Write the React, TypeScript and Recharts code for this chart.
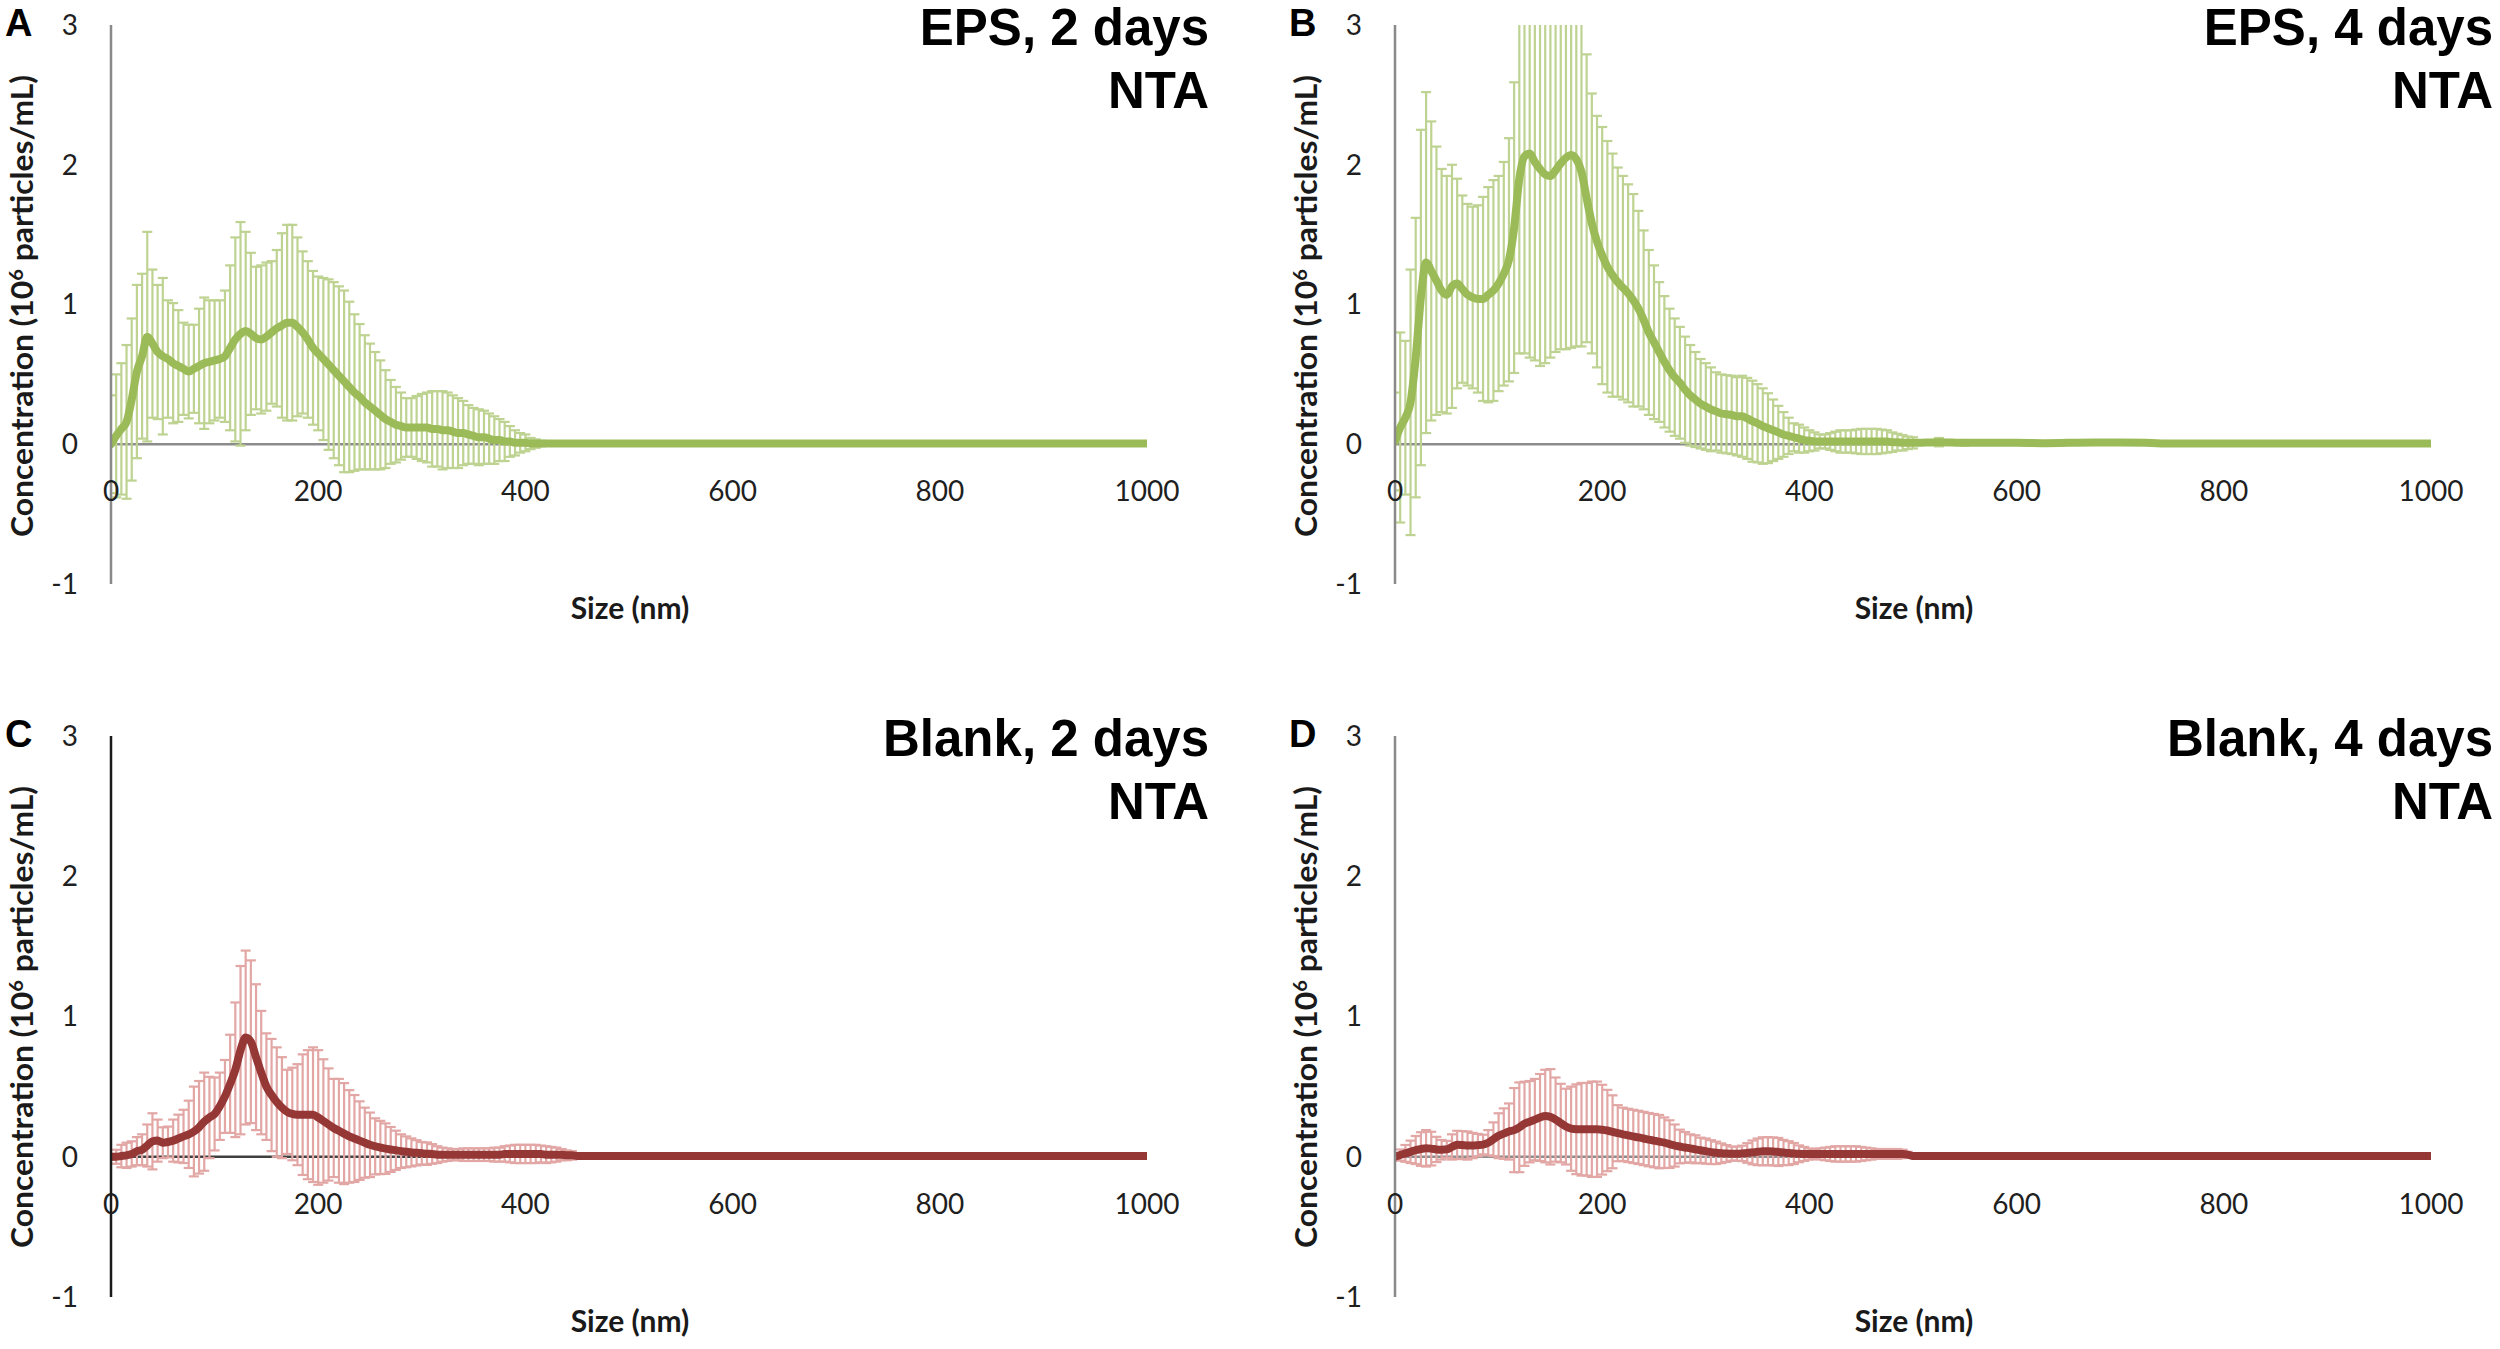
import React from 'react';
import { LineChart, Line, XAxis, YAxis, ReferenceLine, ErrorBar } from 'recharts';

// Particle size bins (nm)
const SIZES = [
  0, 5, 10, 15, 20, 25, 30, 35, 40, 45,
  50, 55, 60, 65, 70, 75, 80, 85, 90, 95,
  100, 105, 110, 115, 120, 125, 130, 135, 140, 145,
  150, 155, 160, 165, 170, 175, 180, 185, 190, 195,
  200, 205, 210, 215, 220, 225, 230, 235, 240, 245,
  250, 255, 260, 265, 270, 275, 280, 285, 290, 295,
  300, 305, 310, 315, 320, 325, 330, 335, 340, 345,
  350, 355, 360, 365, 370, 375, 380, 385, 390, 395,
  400, 405, 410, 415, 420, 425, 430, 435, 440, 445,
  450, 455, 460, 465, 470, 475, 480, 485, 490, 495,
  500,
  525, 550, 575, 600, 625, 650, 675, 700, 725, 750,
  775, 800, 825, 850, 875, 900, 925, 950, 975, 1000,
];

// A: EPS, 2 days
const EPS2_MEAN = [
  0, 0.06, 0.11, 0.16, 0.32, 0.52, 0.63, 0.77, 0.72, 0.66,
  0.63, 0.61, 0.58, 0.56, 0.54, 0.52, 0.54, 0.56, 0.58, 0.59,
  0.60, 0.61, 0.63, 0.69, 0.75, 0.79, 0.81, 0.79, 0.76, 0.75,
  0.77, 0.80, 0.83, 0.85, 0.87, 0.87, 0.84, 0.80, 0.75, 0.69,
  0.65, 0.61, 0.57, 0.53, 0.49, 0.45, 0.41, 0.37, 0.34, 0.30,
  0.27, 0.24, 0.21, 0.18, 0.16, 0.14, 0.13, 0.12, 0.12, 0.12,
  0.12, 0.12, 0.11, 0.11, 0.10, 0.10, 0.09, 0.08, 0.08, 0.07,
  0.06, 0.05, 0.05, 0.04, 0.03, 0.03, 0.02, 0.02, 0.01, 0.01,
  0.01, 0.005, 0.005, 0.005, 0.005, 0.005, 0.005, 0.005, 0.005, 0.005,
  0.005, 0.005, 0.005, 0.005, 0.005, 0.005, 0.005, 0.005, 0.005, 0.005,
  0.005,
  0.005, 0.005, 0.005, 0.005, 0.005, 0.005, 0.005, 0.005, 0.005, 0.005,
  0.005, 0.005, 0.005, 0.005, 0.005, 0.005, 0.005, 0.005, 0.005, 0.005,
];
const EPS2_SD = [
  0.35, 0.44, 0.47, 0.55, 0.58, 0.62, 0.59, 0.75, 0.53, 0.48,
  0.56, 0.42, 0.43, 0.40, 0.33, 0.335, 0.315, 0.41, 0.47, 0.44,
  0.43, 0.42, 0.47, 0.59, 0.73, 0.80, 0.71, 0.58, 0.51, 0.53,
  0.53, 0.51, 0.56, 0.66, 0.70, 0.70, 0.64, 0.58, 0.56, 0.55,
  0.55, 0.58, 0.61, 0.63, 0.64, 0.65, 0.61, 0.56, 0.52, 0.48,
  0.45, 0.42, 0.39, 0.35, 0.30, 0.27, 0.24, 0.21, 0.21, 0.225,
  0.24, 0.25, 0.27, 0.27, 0.28, 0.27, 0.26, 0.25, 0.23, 0.21,
  0.20, 0.20, 0.19, 0.18, 0.17, 0.15, 0.14, 0.11, 0.09, 0.07,
  0.06, 0.04, 0.03, 0.02, 0.01, 0, 0, 0, 0, 0,
  0, 0, 0, 0, 0, 0, 0, 0, 0, 0,
  0,
  0, 0, 0, 0, 0, 0, 0, 0, 0, 0,
  0, 0, 0, 0, 0, 0, 0, 0, 0, 0,
];

// B: EPS, 4 days
const EPS4_MEAN = [
  0.02, 0.12, 0.19, 0.30, 0.62, 1.05, 1.30, 1.24, 1.17, 1.10,
  1.07, 1.13, 1.15, 1.11, 1.07, 1.05, 1.04, 1.04, 1.07, 1.10,
  1.15, 1.22, 1.32, 1.55, 1.90, 2.06, 2.08, 2.02, 1.97, 1.93,
  1.92, 1.96, 2.01, 2.05, 2.07, 2.04, 1.95, 1.76, 1.58, 1.45,
  1.35, 1.27, 1.21, 1.16, 1.12, 1.08, 1.03, 0.97, 0.89, 0.80,
  0.73, 0.66, 0.59, 0.53, 0.48, 0.44, 0.39, 0.35, 0.32, 0.29,
  0.27, 0.25, 0.235, 0.22, 0.215, 0.21, 0.20, 0.20, 0.185, 0.165,
  0.15, 0.13, 0.115, 0.10, 0.085, 0.07, 0.06, 0.05, 0.04, 0.03,
  0.025, 0.02, 0.02, 0.02, 0.02, 0.02, 0.02, 0.02, 0.02, 0.02,
  0.02, 0.02, 0.02, 0.02, 0.02, 0.02, 0.015, 0.015, 0.01, 0.01,
  0.01,
  0.015, 0.01, 0.01, 0.01, 0.008, 0.01, 0.012, 0.012, 0.01, 0.005,
  0.005, 0.005, 0.005, 0.005, 0.005, 0.005, 0.005, 0.005, 0.005, 0.005,
];
const EPS4_SD = [
  0.35, 0.68, 0.55, 0.95, 1.00, 1.20, 1.22, 1.07, 0.96, 0.87,
  0.85, 0.87, 0.75, 0.67, 0.65, 0.65, 0.67, 0.73, 0.77, 0.79,
  0.77, 0.80, 0.87, 1.04, 1.25, 1.41, 1.46, 1.42, 1.41, 1.35,
  1.30, 1.30, 1.33, 1.37, 1.38, 1.34, 1.25, 1.03, 0.93, 0.90,
  0.92, 0.90, 0.87, 0.82, 0.80, 0.78, 0.76, 0.70, 0.64, 0.59,
  0.55, 0.50, 0.47, 0.44, 0.42, 0.40, 0.38, 0.36, 0.34, 0.32,
  0.31, 0.30, 0.28, 0.28, 0.28, 0.28, 0.28, 0.29, 0.29, 0.29,
  0.28, 0.27, 0.25, 0.22, 0.19, 0.16, 0.13, 0.10, 0.10, 0.09,
  0.075, 0.065, 0.05, 0.05, 0.06, 0.07, 0.08, 0.08, 0.08, 0.085,
  0.09, 0.09, 0.09, 0.09, 0.085, 0.08, 0.07, 0.06, 0.055, 0.045,
  0.04,
  0.03, 0.02, 0.01, 0, 0, 0, 0, 0, 0, 0,
  0, 0, 0, 0, 0, 0, 0, 0, 0, 0,
];

// C: Blank, 2 days
const BLANK2_MEAN = [
  0, 0, 0.005, 0.01, 0.02, 0.04, 0.05, 0.08, 0.11, 0.115,
  0.10, 0.105, 0.115, 0.13, 0.145, 0.16, 0.18, 0.21, 0.25, 0.28,
  0.305, 0.36, 0.43, 0.52, 0.62, 0.76, 0.85, 0.82, 0.71, 0.60,
  0.50, 0.44, 0.39, 0.35, 0.32, 0.305, 0.30, 0.30, 0.30, 0.30,
  0.28, 0.255, 0.23, 0.205, 0.185, 0.165, 0.145, 0.13, 0.115, 0.10,
  0.085, 0.074, 0.066, 0.058, 0.052, 0.046, 0.04, 0.035, 0.031, 0.028,
  0.025, 0.022, 0.02, 0.015, 0.015, 0.015, 0.015, 0.015, 0.015, 0.015,
  0.015, 0.015, 0.015, 0.015, 0.015, 0.015, 0.02, 0.02, 0.02, 0.02,
  0.02, 0.02, 0.02, 0.02, 0.015, 0.015, 0.015, 0.015, 0.01, 0.01,
  0.005, 0.005, 0.005, 0.005, 0.005, 0.005, 0.005, 0.005, 0.005, 0.005,
  0.005,
  0.005, 0.005, 0.005, 0.005, 0.005, 0.005, 0.005, 0.005, 0.005, 0.005,
  0.005, 0.005, 0.005, 0.005, 0.005, 0.005, 0.005, 0.005, 0.005, 0.005,
];
const BLANK2_SD = [
  0.02, 0.05, 0.08, 0.09, 0.09, 0.10, 0.11, 0.15, 0.20, 0.15,
  0.11, 0.11, 0.15, 0.17, 0.19, 0.24, 0.32, 0.33, 0.35, 0.29,
  0.26, 0.24, 0.26, 0.35, 0.48, 0.60, 0.62, 0.58, 0.52, 0.44,
  0.38, 0.40, 0.39, 0.36, 0.30, 0.33, 0.36, 0.43, 0.46, 0.48,
  0.48, 0.44, 0.40, 0.35, 0.37, 0.36, 0.33, 0.31, 0.28, 0.25,
  0.23, 0.20, 0.19, 0.18, 0.16, 0.14, 0.12, 0.11, 0.10, 0.09,
  0.08, 0.08, 0.07, 0.06, 0.05, 0.045, 0.04, 0.04, 0.045, 0.045,
  0.045, 0.045, 0.045, 0.045, 0.05, 0.05, 0.055, 0.06, 0.065, 0.065,
  0.065, 0.065, 0.065, 0.06, 0.06, 0.055, 0.05, 0.04, 0.035, 0.03,
  0.02, 0.01, 0, 0, 0, 0, 0, 0, 0, 0,
  0,
  0, 0, 0, 0, 0, 0, 0, 0, 0, 0,
  0, 0, 0, 0, 0, 0, 0, 0, 0, 0,
];

// D: Blank, 4 days
const BLANK4_MEAN = [
  0, 0.012, 0.024, 0.035, 0.048, 0.055, 0.06, 0.058, 0.052, 0.05,
  0.053, 0.07, 0.085, 0.083, 0.08, 0.08, 0.083, 0.087, 0.10, 0.125,
  0.15, 0.165, 0.18, 0.19, 0.21, 0.235, 0.25, 0.265, 0.28, 0.29,
  0.285, 0.265, 0.24, 0.215, 0.20, 0.196, 0.196, 0.196, 0.196, 0.196,
  0.193, 0.187, 0.178, 0.168, 0.16, 0.152, 0.145, 0.138, 0.13, 0.122,
  0.115, 0.108, 0.10, 0.09, 0.08, 0.073, 0.066, 0.06, 0.053, 0.046,
  0.04, 0.033, 0.028, 0.025, 0.023, 0.022, 0.022, 0.024, 0.027, 0.031,
  0.035, 0.039, 0.04, 0.038, 0.034, 0.03, 0.026, 0.023, 0.021, 0.02,
  0.019, 0.02, 0.02, 0.02, 0.02, 0.02, 0.02, 0.02, 0.02, 0.02,
  0.02, 0.02, 0.02, 0.02, 0.02, 0.02, 0.02, 0.02, 0.02, 0.015,
  0.005,
  0.005, 0.005, 0.005, 0.005, 0.005, 0.005, 0.005, 0.005, 0.005, 0.005,
  0.005, 0.005, 0.005, 0.005, 0.005, 0.005, 0.005, 0.005, 0.005, 0.005,
];
const BLANK4_SD = [
  0.02, 0.04, 0.06, 0.08, 0.10, 0.12, 0.13, 0.12, 0.09, 0.07,
  0.06, 0.09, 0.10, 0.10, 0.10, 0.09, 0.08, 0.07, 0.09, 0.12,
  0.16, 0.18, 0.20, 0.30, 0.32, 0.30, 0.29, 0.29, 0.31, 0.33,
  0.34, 0.30, 0.28, 0.27, 0.30, 0.32, 0.33, 0.33, 0.34, 0.34,
  0.32, 0.29, 0.26, 0.20, 0.19, 0.19, 0.19, 0.19, 0.19, 0.19,
  0.19, 0.19, 0.18, 0.17, 0.15, 0.12, 0.11, 0.10, 0.10, 0.09,
  0.09, 0.085, 0.08, 0.07, 0.06, 0.05, 0.05, 0.055, 0.07, 0.085,
  0.095, 0.10, 0.10, 0.10, 0.10, 0.09, 0.085, 0.075, 0.06, 0.05,
  0.04, 0.035, 0.04, 0.045, 0.05, 0.055, 0.055, 0.055, 0.055, 0.055,
  0.05, 0.045, 0.04, 0.035, 0.035, 0.035, 0.035, 0.035, 0.03, 0.02,
  0.01,
  0, 0, 0, 0, 0, 0, 0, 0, 0, 0,
  0, 0, 0, 0, 0, 0, 0, 0, 0, 0,
];

const X_TICKS = [0, 200, 400, 600, 800, 1000];
const Y_TICKS = [-1, 0, 1, 2, 3];
const X_DOMAIN = [0, 1000];
const Y_DOMAIN = [-1, 3];

const X_TITLE = 'Size (nm)';
const Y_TITLE_PRE = 'Concentration (10';
const Y_TITLE_SUP = '6';
const Y_TITLE_POST = ' particles/mL)';
const METHOD = 'NTA';

const GREEN_LINE = '#9BBB59';
const GREEN_BAR = '#BED391';
const RED_LINE = '#953735';
const RED_BAR = '#E2A7A5';

const TICK_FONT = 'Lato, "Open Sans", "Liberation Sans", sans-serif';
const BOLD_FONT = '"Liberation Sans", Arial, Helvetica, sans-serif';

// layout
const CHART_W = 1216;
const PLOT_LEFT = 111;
const PLOT_W = 1036;
const Y_AXIS_W = 50;
const X_AXIS_H = 30;

const buildRows = (mean: number[], sd: number[]) =>
  SIZES.map((s, i) => ({ size: s, mean: mean[i], sd: sd[i] }));

type PanelProps = {
  letter: string;
  title: string;
  mean: number[];
  sd: number[];
  lineColor: string;
  barColor: string;
  axisColor: string;
  zeroColor: string;
  left: number;
  top: number;
  height: number;
  plotTop: number;
  plotH: number;
};

function Panel(p: PanelProps) {
  const rows = buildRows(p.mean, p.sd);
  const plotH = p.plotH;
  const bottomMargin = p.height - p.plotTop - plotH - X_AXIS_H;
  const plotBottom = p.plotTop + plotH;
  const clipId = `errclip-${p.letter}`;

  const XTick = (props: any) => {
    const { x, y, payload } = props;
    return (
      <text
        x={x}
        y={y - plotH / 4 + 46}
        textAnchor="middle"
        dominantBaseline="central"
        fontFamily={TICK_FONT}
        fontSize={28}
        fill="#1f1f1f"
      >
        {payload.value}
      </text>
    );
  };

  return (
    <div
      className={`panel-${p.letter}`}
      style={{ position: 'absolute', left: p.left, top: p.top, width: CHART_W, height: p.height }}
    >
      <style>{`.panel-${p.letter} [class*="errorBar"] { clip-path: url(#${clipId}); }`}</style>
      <svg width={0} height={0} style={{ position: 'absolute', left: 0, top: 0 }}>
        <defs>
          <clipPath id={clipId} clipPathUnits="userSpaceOnUse">
            <rect x={PLOT_LEFT} y={p.plotTop} width={PLOT_W} height={plotH} />
          </clipPath>
        </defs>
      </svg>
      <LineChart
        width={CHART_W}
        height={p.height}
        data={rows}
        margin={{ top: p.plotTop, right: CHART_W - PLOT_LEFT - PLOT_W, bottom: bottomMargin, left: PLOT_LEFT - Y_AXIS_W }}
      >
        <XAxis
          type="number"
          dataKey="size"
          domain={X_DOMAIN}
          ticks={X_TICKS}
          interval={0}
          axisLine={false}
          tickLine={false}
          tickSize={0}
          tickMargin={0}
          height={X_AXIS_H}
          tick={XTick}
          allowDataOverflow
        />
        <YAxis
          type="number"
          domain={Y_DOMAIN}
          ticks={Y_TICKS}
          interval={0}
          width={Y_AXIS_W}
          axisLine={{ stroke: p.axisColor, strokeWidth: 2.5 }}
          tickLine={false}
          tickSize={0}
          tickMargin={33}
          tick={{ fontFamily: TICK_FONT, fontSize: 28, fill: '#1f1f1f' }}
          allowDataOverflow
        />
        <ReferenceLine y={0} stroke={p.zeroColor} strokeWidth={2.5} />
        <Line
          dataKey="mean"
          type="monotone"
          stroke="none"
          dot={false}
          activeDot={false}
          isAnimationActive={false}
        >
          <ErrorBar
            dataKey="sd"
            direction="y"
            width={5}
            stroke={p.barColor}
            strokeWidth={2.2}
            clipPath={`url(#${clipId})`}
            isAnimationActive={false}
          />
        </Line>
        <Line
          dataKey="mean"
          type="monotone"
          stroke={p.lineColor}
          strokeWidth={8}
          strokeLinejoin="round"
          strokeLinecap="round"
          dot={false}
          activeDot={false}
          isAnimationActive={false}
        />
      </LineChart>
      <svg
        width={CHART_W}
        height={p.height}
        style={{ position: 'absolute', left: 0, top: 0, pointerEvents: 'none' }}
      >
        <text x={5} y={p.plotTop + 11} fontFamily={BOLD_FONT} fontWeight="bold" fontSize={38} fill="#000">
          {p.letter}
        </text>
        <text
          x={PLOT_LEFT + PLOT_W + 62}
          y={p.plotTop + 20}
          textAnchor="end"
          fontFamily={BOLD_FONT}
          fontWeight="bold"
          fontSize={51}
          fill="#000"
        >
          {p.title}
        </text>
        <text
          x={PLOT_LEFT + PLOT_W + 62}
          y={p.plotTop + 83}
          textAnchor="end"
          fontFamily={BOLD_FONT}
          fontWeight="bold"
          fontSize={51}
          fill="#000"
        >
          {METHOD}
        </text>
        <text
          transform={`translate(${PLOT_LEFT - 78}, ${p.plotTop + 281}) rotate(-90)`}
          textAnchor="middle"
          fontFamily={TICK_FONT}
          fontWeight="bold"
          fontSize={30}
          fill="#1a1a1a"
          textLength={462}
          lengthAdjust="spacingAndGlyphs"
        >
          <tspan>{Y_TITLE_PRE}</tspan>
          <tspan dy={-10} fontSize={19}>{Y_TITLE_SUP}</tspan>
          <tspan dy={10}>{Y_TITLE_POST}</tspan>
        </text>
        <text
          x={PLOT_LEFT + PLOT_W / 2 + 1}
          y={plotBottom + 35}
          textAnchor="middle"
          fontFamily={TICK_FONT}
          fontWeight="bold"
          fontSize={30}
          fill="#1a1a1a"
        >
          {X_TITLE}
        </text>
      </svg>
    </div>
  );
}

export default function App() {
  return (
    <div
      style={{
        position: 'absolute',
        left: 0,
        top: 0,
        width: 2500,
        height: 1349,
        overflow: 'hidden',
        background: '#fff',
      }}
    >
      <Panel
        letter="A"
        title="EPS, 2 days"
        mean={EPS2_MEAN}
        sd={EPS2_SD}
        lineColor={GREEN_LINE}
        barColor={GREEN_BAR}
        axisColor="#898989"
        zeroColor="#8c8c8c"
        left={0}
        top={0}
        height={674}
        plotTop={25}
        plotH={559}
      />
      <Panel
        letter="B"
        title="EPS, 4 days"
        mean={EPS4_MEAN}
        sd={EPS4_SD}
        lineColor={GREEN_LINE}
        barColor={GREEN_BAR}
        axisColor="#898989"
        zeroColor="#8c8c8c"
        left={1284}
        top={0}
        height={674}
        plotTop={25}
        plotH={559}
      />
      <Panel
        letter="C"
        title="Blank, 2 days"
        mean={BLANK2_MEAN}
        sd={BLANK2_SD}
        lineColor={RED_LINE}
        barColor={RED_BAR}
        axisColor="#1a1a1a"
        zeroColor="#404040"
        left={0}
        top={674}
        height={675}
        plotTop={62}
        plotH={561}
      />
      <Panel
        letter="D"
        title="Blank, 4 days"
        mean={BLANK4_MEAN}
        sd={BLANK4_SD}
        lineColor={RED_LINE}
        barColor={RED_BAR}
        axisColor="#898989"
        zeroColor="#8c8c8c"
        left={1284}
        top={674}
        height={675}
        plotTop={62}
        plotH={561}
      />
    </div>
  );
}
